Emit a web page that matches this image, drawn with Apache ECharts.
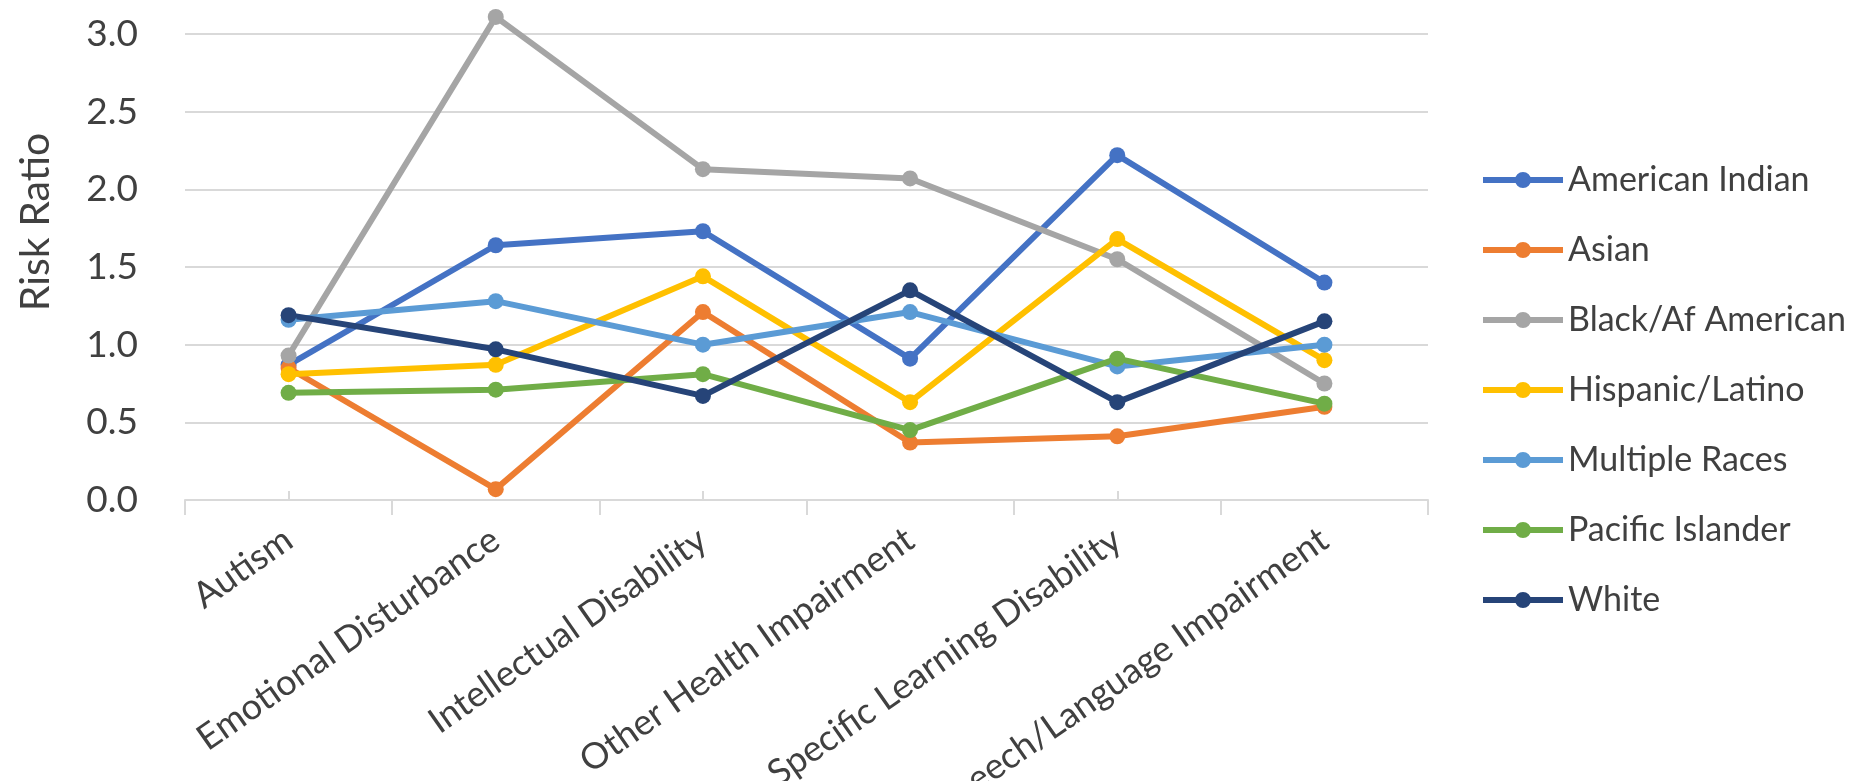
<!DOCTYPE html>
<html>
<head>
<meta charset="utf-8">
<title>Risk Ratio by Disability Category</title>
<script src="https://cdn.jsdelivr.net/npm/echarts@6/dist/echarts.min.js"></script>
<style>
  html, body { margin: 0; padding: 0; background: #ffffff; }
  #chart { width: 1863px; height: 781px; }
</style>
</head>
<body>
<div id="chart"></div>
<script>
// Disability categories along the x axis
const categories = [
  'Autism',
  'Emotional Disturbance',
  'Intellectual Disability',
  'Other Health Impairment',
  'Specific Learning Disability',
  'Speech/Language Impairment'
];

// Risk ratio per group, one value per category
const americanIndian = [0.87, 1.64, 1.73, 0.91, 2.22, 1.40];
const asian          = [0.85, 0.07, 1.21, 0.37, 0.41, 0.60];
const blackAfAmerican = [0.93, 3.11, 2.13, 2.07, 1.55, 0.75];
const hispanicLatino = [0.81, 0.87, 1.44, 0.63, 1.68, 0.90];
const multipleRaces  = [1.16, 1.28, 1.00, 1.21, 0.86, 1.00];
const pacificIslander = [0.69, 0.71, 0.81, 0.45, 0.91, 0.62];
const white          = [1.19, 0.97, 0.67, 1.35, 0.63, 1.15];

const groupNames = [
  'American Indian', 'Asian', 'Black/Af American', 'Hispanic/Latino',
  'Multiple Races', 'Pacific Islander', 'White'
];
const groupValues = [
  americanIndian, asian, blackAfAmerican, hispanicLatino,
  multipleRaces, pacificIslander, white
];
const groupColors = [
  '#4472C4', '#ED7D31', '#A5A5A5', '#FFC000', '#5B9BD5', '#70AD47', '#264478'
];

// Y axis range and step
const yMin = 0;
const yMax = 3;
const yStep = 0.5;

const FONT = 'Lato, "Open Sans", sans-serif';
const TEXT_COLOR = '#404040';
const GRID_COLOR = '#d9d9d9';

// legend key: a thick line segment with a round marker in the middle
const LEGEND_ICON = 'path://M0,5H80V11H0Z M32,8A8,8 0 1,1 48,8A8,8 0 1,1 32,8Z';

const chart = echarts.init(document.getElementById('chart'), null, { renderer: 'canvas' });

const series = groupNames.map((name, i) => ({
  name: name,
  type: 'line',
  data: groupValues[i],
  xAxisIndex: 0,
  symbol: 'circle',
  symbolSize: 16,
  clip: false,
  lineStyle: { width: 6, color: groupColors[i] },
  itemStyle: { color: groupColors[i] },
  emphasis: { disabled: true },
  animation: false
}));

chart.setOption({
  backgroundColor: '#ffffff',
  animation: false,
  grid: {
    left: 185, right: 435, top: 34, bottom: 281,
    containLabel: false,
    outerBoundsMode: 'none'
  },
  legend: {
    orient: 'vertical',
    left: 1483,
    top: 163,
    padding: 0,
    itemWidth: 80,
    itemHeight: 16,
    itemGap: 36,
    data: groupNames.map(n => ({ name: n, icon: LEGEND_ICON })),
    textStyle: { fontFamily: FONT, fontSize: 34, color: TEXT_COLOR },
    selectedMode: false
  },
  graphic: [{
    type: 'text',
    x: 36,
    y: 222,
    rotation: Math.PI / 2,
    style: {
      text: 'Risk Ratio',
      fontFamily: FONT,
      fontSize: 41,
      fill: TEXT_COLOR,
      textAlign: 'center',
      textVerticalAlign: 'middle'
    }
  }],
  xAxis: [{
    type: 'category',
    data: categories,
    position: 'bottom',
    boundaryGap: true,
    axisLine: { show: true, lineStyle: { color: GRID_COLOR, width: 2 } },
    axisTick: { show: true, length: 15, lineStyle: { color: GRID_COLOR, width: 2 } },
    axisLabel: {
      interval: 0,
      rotate: 35,
      margin: 36,
      fontFamily: FONT,
      fontSize: 36,
      color: TEXT_COLOR
    },
    splitLine: { show: false }
  }, {
    // short inner tick marks at each category centre
    type: 'category',
    data: categories,
    position: 'bottom',
    boundaryGap: true,
    axisLine: { show: false },
    axisTick: { show: true, alignWithLabel: true, inside: true, length: 9, lineStyle: { color: GRID_COLOR, width: 2 } },
    axisLabel: { show: false },
    splitLine: { show: false }
  }],
  yAxis: {
    type: 'value',
    min: yMin,
    max: yMax,
    interval: yStep,
    axisLine: { show: false },
    axisTick: { show: false },
    axisLabel: {
      margin: 47,
      fontFamily: FONT,
      fontSize: 37,
      color: TEXT_COLOR,
      formatter: v => v.toFixed(1)
    },
    splitLine: { show: true, lineStyle: { color: GRID_COLOR, width: 2 } }
  },
  series: series
});
</script>
</body>
</html>
